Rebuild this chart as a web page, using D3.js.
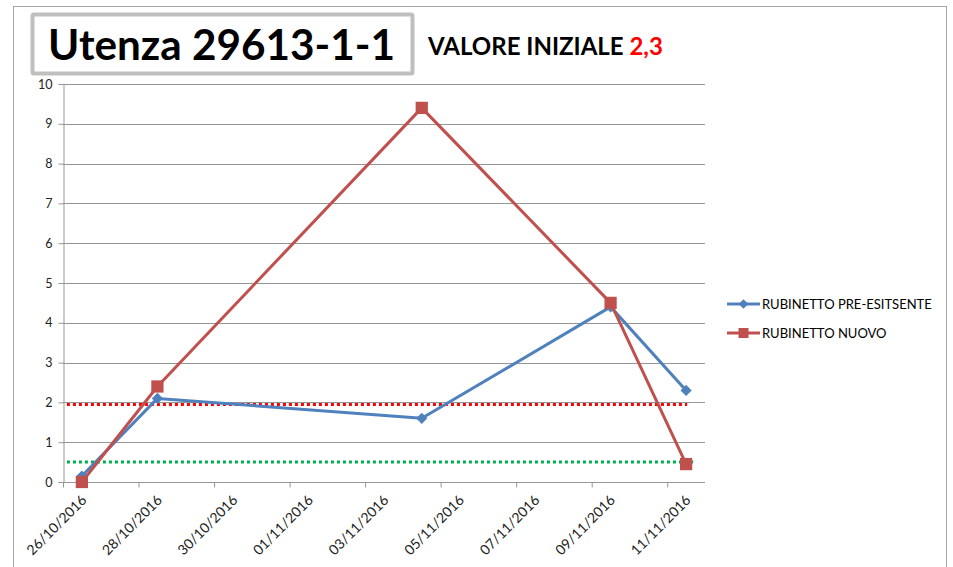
<!DOCTYPE html>
<html>
<head>
<meta charset="utf-8">
<script src="https://cdn.jsdelivr.net/npm/d3@7"></script>
<style>
  html, body { margin: 0; padding: 0; background: #ffffff; }
  svg { display: block; font-family: Lato, "Open Sans", "Liberation Sans", sans-serif; }
</style>
</head>
<body>
<svg id="chart" width="953" height="567"></svg>
<script>
// ---------- data ----------
const titleText = "Utenza 29613-1-1";
const subtitleText = "VALORE INIZIALE ";
const subtitleValue = "2,3";
const dates = ["2016-10-26", "2016-10-28", "2016-11-04", "2016-11-09", "2016-11-11"];
const seriesNames = ["RUBINETTO PRE-ESITSENTE", "RUBINETTO NUOVO"];
const preEsistente = [0.15, 2.1, 1.6, 4.4, 2.3];
const nuovo = [0.0, 2.4, 9.4, 4.5, 0.45];
const yTicks = [0, 1, 2, 3, 4, 5, 6, 7, 8, 9, 10];
const xTickLabels = ["26/10/2016", "28/10/2016", "30/10/2016", "01/11/2016", "03/11/2016",
                     "05/11/2016", "07/11/2016", "09/11/2016", "11/11/2016"];
const thresholdValues = [1.95, 0.5];
const thresholdStart = ["2016-10-26T02:30", "2016-10-26T02:30"];
const thresholdEnd = ["2016-11-11T12:40", "2016-11-11T16:30"];

// ---------- setup ----------
const svg = d3.select("#chart");
const parseDay = d3.timeParse("%Y-%m-%d");
const parseDT = d3.timeParse("%Y-%m-%dT%H:%M");
const parseLabel = d3.timeParse("%d/%m/%Y");
const noon = d => d3.timeHour.offset(d, 12);

const plot = { left: 63, right: 705, top: 84, bottom: 482 };
const x = d3.scaleTime()
  .domain([parseDay("2016-10-26"), parseDay("2016-11-12")])
  .range([plot.left, plot.right]);
const y = d3.scaleLinear().domain([0, 10]).range([plot.bottom, plot.top]);

const colors = ["#4f81bd", "#c0504d"];
const gridColor = "#969696";

// outer chart border
svg.append("rect").attr("x", 13.5).attr("y", 6.5).attr("width", 933).attr("height", 600)
  .attr("fill", "#ffffff").attr("stroke", "#a6a6a6").attr("stroke-width", 1);

// title box
svg.append("rect").attr("x", 32.5).attr("y", 14.5).attr("width", 380).attr("height", 59)
  .attr("fill", "#ffffff").attr("stroke", "#bfbfbf").attr("stroke-width", 4).attr("rx", 1.5);

function fitText(sel, targetWidth) {
  const w = sel.node().getComputedTextLength();
  const fs = parseFloat(sel.attr("font-size"));
  sel.attr("font-size", fs * targetWidth / w);
}

const title = svg.append("text").attr("x", 48).attr("y", 60)
  .attr("font-size", 44).attr("font-weight", "bold").attr("fill", "#000")
  .text(titleText);
fitText(title, 347);

const sub = svg.append("text").attr("x", 428).attr("y", 55)
  .attr("font-size", 20).attr("font-weight", "bold").attr("fill", "#000");
sub.append("tspan").text(subtitleText);
sub.append("tspan").attr("fill", "#ff0000").text(subtitleValue);
fitText(sub, 235);

// gridlines
svg.append("g").selectAll("line").data(yTicks.filter(v => v > 0)).join("line")
  .attr("x1", plot.left).attr("x2", plot.right)
  .attr("y1", d => Math.round(y(d)) + 0.5).attr("y2", d => Math.round(y(d)) + 0.5)
  .attr("stroke", gridColor).attr("stroke-width", 1);

// y axis
const yAxis = svg.append("g").attr("transform", `translate(${plot.left + 0.5},0)`)
  .call(d3.axisLeft(y).tickValues(yTicks).tickSize(5).tickPadding(6).tickFormat(d3.format("d")));
yAxis.select(".domain").attr("stroke", gridColor);
yAxis.selectAll(".tick line").attr("stroke", gridColor);
yAxis.selectAll("text").attr("font-size", 12.5).attr("fill", "#222")
  .attr("font-family", "Lato, 'Open Sans', sans-serif");

// x axis: tick marks at day boundaries every 2 days
const tickDates = xTickLabels.map(parseLabel);
const xAxis = svg.append("g").attr("transform", `translate(0,${plot.bottom + 0.5})`)
  .call(d3.axisBottom(x).tickValues(tickDates).tickSize(5).tickFormat(""));
xAxis.select(".domain").attr("stroke", gridColor).attr("d", `M${plot.left},0H${plot.right}`);
xAxis.selectAll(".tick line").attr("stroke", gridColor);

// x labels centered on each day slot
const xLab = svg.append("g").attr("transform", `translate(0,${plot.bottom})`)
  .call(d3.axisBottom(x).tickValues(tickDates.map(noon)).tickSize(0).tickPadding(0)
    .tickFormat(d3.timeFormat("%d/%m/%Y")));
xLab.select(".domain").remove();
xLab.selectAll("text")
  .attr("font-size", 14).attr("fill", "#222")
  .attr("font-family", "Lato, 'Open Sans', sans-serif")
  .attr("text-anchor", "end").attr("dy", 0).attr("y", 0)
  .attr("transform", "translate(5,19) rotate(-45)");

// threshold dotted lines
const thrColors = ["#ff0000", "#00b050"];
thresholdValues.forEach((v, i) => {
  svg.append("line")
    .attr("x1", x(parseDT(thresholdStart[i]))).attr("x2", x(parseDT(thresholdEnd[i])))
    .attr("y1", y(v)).attr("y2", y(v))
    .attr("stroke", thrColors[i]).attr("stroke-width", 3).attr("stroke-dasharray", "3,3");
});

// series
const seriesData = [preEsistente, nuovo];
const line = d3.line().x(d => x(d.date)).y(d => y(d.value));
const diamond = d3.symbol().type(d3.symbolDiamond2).size(80);
const square = d3.symbol().type(d3.symbolSquare).size(150);

seriesData.forEach((vals, i) => {
  const pts = vals.map((v, j) => ({ date: noon(parseDay(dates[j])), value: v }));
  svg.append("path").datum(pts).attr("d", line)
    .attr("fill", "none").attr("stroke", colors[i]).attr("stroke-width", 3)
    .attr("stroke-linejoin", "round");
  svg.append("g").selectAll("path").data(pts).join("path")
    .attr("transform", d => `translate(${x(d.date)},${y(d.value)})`)
    .attr("d", i === 0 ? diamond : square)
    .attr("fill", colors[i]);
});

// legend
const legendY = [304, 333];
const legTexts = [];
seriesNames.forEach((name, i) => {
  const g = svg.append("g").attr("transform", `translate(727,${legendY[i]})`);
  g.append("line").attr("x1", 0).attr("x2", 33).attr("y1", 0).attr("y2", 0)
    .attr("stroke", colors[i]).attr("stroke-width", 3);
  g.append("path").attr("transform", "translate(16.5,0)")
    .attr("d", i === 0 ? d3.symbol().type(d3.symbolDiamond2).size(60) : d3.symbol().type(d3.symbolSquare).size(100))
    .attr("fill", colors[i]);
  legTexts.push(g.append("text").attr("x", 35).attr("y", 0).attr("dy", "0.35em")
    .attr("font-size", 12.5).attr("fill", "#000").text(name));
});
fitText(legTexts[0], 170);
legTexts[1].attr("font-size", legTexts[0].attr("font-size"));
</script>
</body>
</html>
